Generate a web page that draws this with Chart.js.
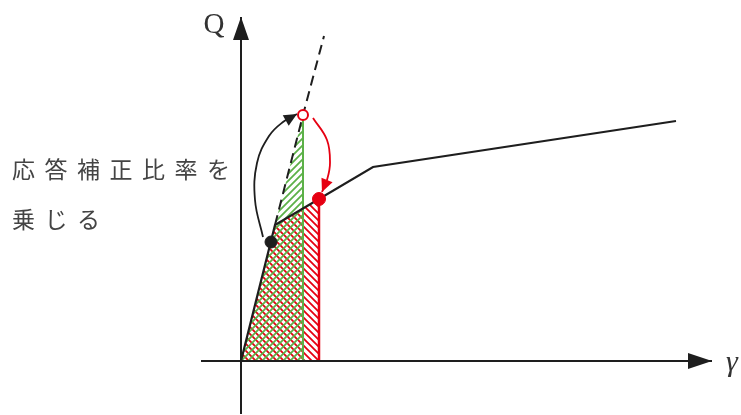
<!DOCTYPE html>
<html>
<head>
<meta charset="utf-8">
<script src="https://cdn.jsdelivr.net/npm/chart.js@4/dist/chart.umd.min.js"></script>
<style>
  html, body { margin: 0; padding: 0; background: #fff; }
  #wrap { position: relative; width: 741px; height: 415px; }
</style>
</head>
<body>
<div id="wrap"><canvas id="qChart"></canvas></div>
<script>
// skeleton curve (γ, Q) with origin at axis crossing
const curveX = [0, 34, 132, 435];
const curveY = [0, 136, 194, 240];
// elastic extension (dashed)
const elasticX = [34, 62, 83];
const elasticY = [136, 246, 325];
// hatched energy areas
const greenAreaX = [0, 34, 62];
const greenAreaY = [0, 136, 246];
const redAreaX = [0, 34, 78];
const redAreaY = [0, 136, 162];
// vertical boundaries
const greenEdgeX = [62, 62];
const greenEdgeY = [0, 246];
const redEdgeX = [78, 78];
const redEdgeY = [0, 162];
// marked points
const blackPoint = [30, 119];
const openPoint = [62, 246];
const redPoint = [78, 162];
// curved arrows
const upArrowX = [22, 14, 16, 28, 42, 56];
const upArrowY = [124, 161, 198, 225, 239, 247];
const downArrowX = [72, 86, 89, 86, 81];
const downArrowY = [243, 221, 198, 181, 169];
// axes
const xAxisX = [-40, 471];
const xAxisY = [0, 0];
const yAxisX = [0, 0];
const yAxisY = [-53, 344];

const RED = '#e60012';
const GREEN = '#5cb148';
const INK = '#1e1e1e';

function pts(xs, ys) {
    return xs.map((x, i) => ({ x: x, y: ys[i] }));
}

function makeHatch(color, dir) {
    const s = 7;
    const c = document.createElement('canvas');
    c.width = s; c.height = s;
    const g = c.getContext('2d');
    g.strokeStyle = color;
    g.lineWidth = 1.8;
    g.beginPath();
    if (dir === '/') {
        g.moveTo(0, s); g.lineTo(s, 0);
        g.moveTo(-1, 1); g.lineTo(1, -1);
        g.moveTo(s - 1, s + 1); g.lineTo(s + 1, s - 1);
    } else {
        g.moveTo(0, 0); g.lineTo(s, s);
        g.moveTo(-1, s - 1); g.lineTo(1, s + 1);
        g.moveTo(s - 1, -1); g.lineTo(s + 1, 1);
    }
    g.stroke();
    return g.createPattern(c, 'repeat');
}

// draws a filled arrow head at the last point of datasets that ask for one
const arrowHeads = {
    id: 'arrowHeads',
    afterDatasetsDraw(chart) {
        const ctx = chart.ctx;
        chart.data.datasets.forEach((ds, i) => {
            if (!ds.arrowHead) return;
            const pts = chart.getDatasetMeta(i).data;
            const tip = pts[pts.length - 1];
            let fx = pts[pts.length - 2].x, fy = pts[pts.length - 2].y;
            if (tip.cp1x !== undefined && Math.hypot(tip.cp1x - tip.x, tip.cp1y - tip.y) > 1) {
                fx = tip.cp1x; fy = tip.cp1y;
            }
            const ang = Math.atan2(tip.y - fy, tip.x - fx);
            const len = ds.arrowHead.len, half = ds.arrowHead.half;
            ctx.save();
            ctx.translate(tip.x, tip.y);
            ctx.rotate(ang);
            ctx.fillStyle = ds.borderColor;
            ctx.beginPath();
            ctx.moveTo(0, 0);
            ctx.lineTo(-len, -half);
            ctx.lineTo(-len, half);
            ctx.closePath();
            ctx.fill();
            ctx.restore();
        });
    }
};

// axis names and the note on the left
const labels = {
    id: 'labels',
    afterDraw(chart) {
        const ctx = chart.ctx;
        ctx.save();
        ctx.fillStyle = '#333';
        ctx.textBaseline = 'alphabetic';
        ctx.textAlign = 'center';
        ctx.font = '29px "Liberation Serif"';
        ctx.fillText('Q', 214, 33);
        ctx.font = 'italic 30px "Liberation Serif"';
        ctx.fillText('γ', 732, 371);
        ctx.font = '23px "Noto Sans CJK JP"';
        ctx.fillStyle = '#444';
        ctx.textAlign = 'left';
        ctx.textBaseline = 'middle';
        const lines = [['応答補正比率を', 169], ['乗じる', 219]];
        lines.forEach(([txt, y]) => {
            [...txt].forEach((ch, k) => ctx.fillText(ch, 12 + k * 32.5, y));
        });
        ctx.restore();
    }
};

const lineDs = (data, color, width, extra) => Object.assign({
    data: data, showLine: true, borderColor: color, borderWidth: width,
    pointRadius: 0, fill: false, tension: 0
}, extra || {});

new Chart(document.getElementById('qChart'), {
    type: 'scatter',
    data: {
        datasets: [
            lineDs(pts(redAreaX, redAreaY), 'rgba(0,0,0,0)', 0,
                { fill: 'origin', backgroundColor: makeHatch(RED, '\\'), order: 12 }),
            lineDs(pts(greenAreaX, greenAreaY), 'rgba(0,0,0,0)', 0,
                { fill: 'origin', backgroundColor: makeHatch(GREEN, '/'), order: 11 }),
            lineDs(pts(greenEdgeX, greenEdgeY), GREEN, 2, { order: 10 }),
            lineDs(pts(redEdgeX, redEdgeY), RED, 2.5, { order: 9 }),
            lineDs(pts(xAxisX, xAxisY), INK, 2, { order: 8, arrowHead: { len: 24, half: 8 } }),
            lineDs(pts(yAxisX, yAxisY), INK, 2, { order: 8, arrowHead: { len: 23, half: 8 } }),
            lineDs(pts(elasticX, elasticY), INK, 2, { order: 6, borderDash: [10, 6] }),
            lineDs(pts(curveX, curveY), INK, 2.2, { order: 5 }),
            lineDs(pts(upArrowX, upArrowY), INK, 1.8, { order: 4, tension: 0.4, arrowHead: { len: 13, half: 6 } }),
            lineDs(pts(downArrowX, downArrowY), RED, 1.8, { order: 4, tension: 0.4, arrowHead: { len: 13, half: 6 } }),
            { data: [{ x: blackPoint[0], y: blackPoint[1] }], pointRadius: 6, pointBackgroundColor: INK, pointBorderColor: INK, order: 1 },
            { data: [{ x: redPoint[0], y: redPoint[1] }], pointRadius: 6.5, pointBackgroundColor: RED, pointBorderColor: RED, order: 1 },
            { data: [{ x: openPoint[0], y: openPoint[1] }], pointRadius: 5, pointBorderWidth: 2, pointBackgroundColor: '#fff', pointBorderColor: RED, order: 1 }
        ]
    },
    options: {
        responsive: true,
        maintainAspectRatio: false,
        animation: false,
        events: [],
        layout: { padding: 0, autoPadding: false },
        plugins: { legend: { display: false }, tooltip: { enabled: false } },
        scales: {
            x: { type: 'linear', display: false, min: -241, max: 500 },
            y: { type: 'linear', display: false, min: -54, max: 361 }
        }
    },
    plugins: [arrowHeads, labels]
});
</script>
</body>
</html>
